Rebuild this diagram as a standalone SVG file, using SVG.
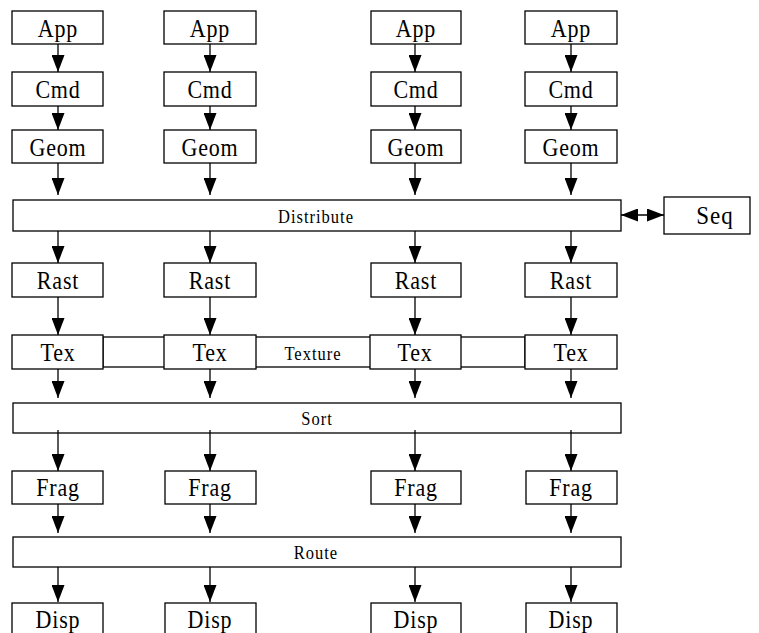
<svg xmlns="http://www.w3.org/2000/svg" width="759" height="633" viewBox="0 0 759 633" font-family="Liberation Serif, Times New Roman, serif">
<defs>
<style>
rect{fill:#fff;stroke:#000;stroke-width:1.3}
text{fill:#000;text-anchor:middle;transform-box:fill-box;transform-origin:center;transform:scaleY(1.13)}
.l{font-size:22px;letter-spacing:0.8px}
.s{font-size:16.5px;letter-spacing:1px}
.q{font-size:23px;letter-spacing:1px}
#connectors line{stroke:#000;stroke-width:1.3;marker-end:url(#ah)}
</style>
<marker id="ah" markerUnits="userSpaceOnUse" markerWidth="17" markerHeight="13" refX="17" refY="6.5" orient="auto"><path d="M0,0 L17,6.5 L0,13 z" fill="#000"/></marker>
<marker id="ah2" markerUnits="userSpaceOnUse" markerWidth="17" markerHeight="13" refX="17" refY="6.5" orient="auto-start-reverse"><path d="M0,0 L17,6.5 L0,13 z" fill="#000"/></marker>
</defs>

<g id="texture"><rect x="103" y="337" width="422" height="30"/><text class="s" x="313" y="359">Texture</text></g>
<g id="distribute"><rect x="13" y="200" width="608" height="31"/><text class="s" x="316" y="222">Distribute</text></g>
<g id="sort"><rect x="13" y="403" width="608" height="30"/><text class="s" x="317" y="424">Sort</text></g>
<g id="route"><rect x="13" y="537" width="608" height="30"/><text class="s" x="316" y="558">Route</text></g>
<g id="seq"><rect x="664" y="197" width="86" height="37"/><text class="q" x="715" y="223">Seq</text></g>

<g id="connectors">
<line x1="58" y1="44" x2="58" y2="72"/><line x1="210" y1="44" x2="210" y2="72"/><line x1="415" y1="44" x2="415" y2="72"/><line x1="571" y1="44" x2="571" y2="72"/>
<line x1="58" y1="106" x2="58" y2="130"/><line x1="210" y1="106" x2="210" y2="130"/><line x1="415" y1="106" x2="415" y2="130"/><line x1="571" y1="106" x2="571" y2="130"/>
<line x1="58" y1="163" x2="58" y2="195"/><line x1="210" y1="163" x2="210" y2="195"/><line x1="415" y1="163" x2="415" y2="195"/><line x1="571" y1="163" x2="571" y2="195"/>
<line x1="58" y1="231" x2="58" y2="263"/><line x1="210" y1="231" x2="210" y2="263"/><line x1="415" y1="231" x2="415" y2="263"/><line x1="571" y1="231" x2="571" y2="263"/>
<line x1="58" y1="297" x2="58" y2="335"/><line x1="210" y1="297" x2="210" y2="335"/><line x1="415" y1="297" x2="415" y2="335"/><line x1="571" y1="297" x2="571" y2="335"/>
<line x1="58" y1="369" x2="58" y2="398"/><line x1="210" y1="369" x2="210" y2="398"/><line x1="415" y1="369" x2="415" y2="398"/><line x1="571" y1="369" x2="571" y2="398"/>
<line x1="58" y1="430" x2="58" y2="471"/><line x1="210" y1="430" x2="210" y2="471"/><line x1="415" y1="430" x2="415" y2="471"/><line x1="571" y1="430" x2="571" y2="471"/>
<line x1="58" y1="504" x2="58" y2="533"/><line x1="210" y1="504" x2="210" y2="533"/><line x1="415" y1="504" x2="415" y2="533"/><line x1="571" y1="504" x2="571" y2="533"/>
<line x1="58" y1="567" x2="58" y2="602"/><line x1="210" y1="567" x2="210" y2="602"/><line x1="415" y1="567" x2="415" y2="602"/><line x1="571" y1="567" x2="571" y2="602"/>
<line x1="621" y1="215" x2="664" y2="215" style="marker-start:url(#ah2);marker-end:url(#ah2)"/>
</g>

<g id="app1"><rect x="12" y="11" width="91" height="33"/><text class="l" x="58" y="36">App</text></g>
<g id="app2"><rect x="164" y="11" width="92" height="33"/><text class="l" x="210" y="36">App</text></g>
<g id="app3"><rect x="371" y="11" width="90" height="33"/><text class="l" x="416" y="36">App</text></g>
<g id="app4"><rect x="525" y="11" width="92" height="33"/><text class="l" x="571" y="36">App</text></g>

<g id="cmd1"><rect x="12" y="72" width="91" height="34"/><text class="l" x="58" y="97">Cmd</text></g>
<g id="cmd2"><rect x="164" y="72" width="92" height="34"/><text class="l" x="210" y="97">Cmd</text></g>
<g id="cmd3"><rect x="371" y="72" width="90" height="34"/><text class="l" x="416" y="97">Cmd</text></g>
<g id="cmd4"><rect x="525" y="72" width="92" height="34"/><text class="l" x="571" y="97">Cmd</text></g>

<g id="geom1"><rect x="12" y="130" width="91" height="33"/><text class="l" x="58" y="155">Geom</text></g>
<g id="geom2"><rect x="164" y="130" width="92" height="33"/><text class="l" x="210" y="155">Geom</text></g>
<g id="geom3"><rect x="371" y="130" width="90" height="33"/><text class="l" x="416" y="155">Geom</text></g>
<g id="geom4"><rect x="525" y="130" width="92" height="33"/><text class="l" x="571" y="155">Geom</text></g>

<g id="rast1"><rect x="12" y="263" width="91" height="34"/><text class="l" x="58" y="288">Rast</text></g>
<g id="rast2"><rect x="164" y="263" width="92" height="34"/><text class="l" x="210" y="288">Rast</text></g>
<g id="rast3"><rect x="371" y="263" width="90" height="34"/><text class="l" x="416" y="288">Rast</text></g>
<g id="rast4"><rect x="525" y="263" width="92" height="34"/><text class="l" x="571" y="288">Rast</text></g>

<g id="tex1"><rect x="12" y="335" width="91" height="34"/><text class="l" x="58" y="360">Tex</text></g>
<g id="tex2"><rect x="164" y="335" width="92" height="34"/><text class="l" x="210" y="360">Tex</text></g>
<g id="tex3"><rect x="370" y="335" width="91" height="34"/><text class="l" x="415" y="360">Tex</text></g>
<g id="tex4"><rect x="525" y="335" width="92" height="34"/><text class="l" x="571" y="360">Tex</text></g>

<g id="frag1"><rect x="12" y="471" width="91" height="33"/><text class="l" x="58" y="495">Frag</text></g>
<g id="frag2"><rect x="165" y="471" width="91" height="33"/><text class="l" x="210" y="495">Frag</text></g>
<g id="frag3"><rect x="371" y="471" width="90" height="33"/><text class="l" x="416" y="495">Frag</text></g>
<g id="frag4"><rect x="526" y="471" width="91" height="33"/><text class="l" x="571" y="495">Frag</text></g>

<g id="disp1"><rect x="12" y="603" width="91" height="36"/><text class="l" x="58" y="627">Disp</text></g>
<g id="disp2"><rect x="165" y="603" width="91" height="36"/><text class="l" x="210" y="627">Disp</text></g>
<g id="disp3"><rect x="371" y="603" width="90" height="36"/><text class="l" x="416" y="627">Disp</text></g>
<g id="disp4"><rect x="526" y="603" width="91" height="36"/><text class="l" x="571" y="627">Disp</text></g>
</svg>
